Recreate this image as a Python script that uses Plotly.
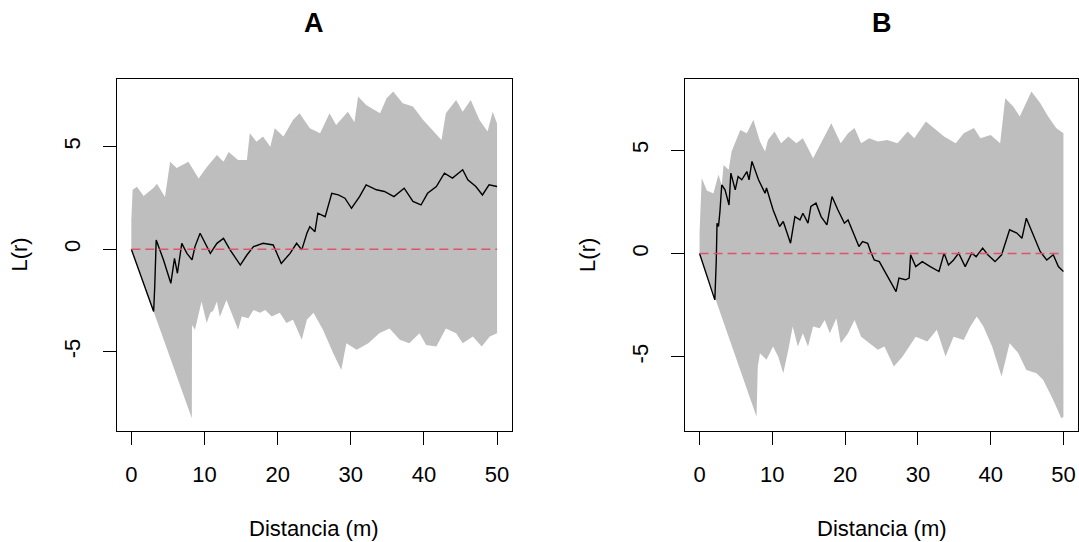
import plotly.graph_objects as go

# ---------------- Panel A ----------------
A_UP_R = [0, 0.18, 0.77, 1.68, 3.05, 3.5, 4.6, 5.3, 6.2, 7.8, 9.2, 10.3, 11.7, 12.6, 13.3, 14.6, 15.8, 16.2,
          17.1, 18.0, 19.0, 19.6, 20.8, 22.1, 23.0, 24.4, 25.8, 27.1, 28.0, 29.6, 30.5, 31.0, 32.1, 34.0, 34.9,
          35.8, 37.1, 38.5, 39.9, 41.2, 42.4, 43.0, 44.4, 45.3, 46.4, 47.6, 48.7, 49.4, 50]
A_UP = [1.43, 2.9, 3.05, 2.6, 3.0, 3.2, 2.55, 4.27, 3.96, 4.27, 3.45, 4.0, 4.6, 4.27, 4.75, 4.35, 4.35, 5.66,
        5.25, 5.5, 5.0, 5.9, 5.5, 6.3, 6.63, 5.9, 5.66, 6.63, 6.06, 6.71, 6.2, 7.45, 7.04, 6.63, 7.37,
        7.69, 7.12, 6.96, 6.31, 5.82, 5.33, 6.63, 7.28, 6.71, 7.28, 6.31, 5.74, 6.71, 6.14]

A_LO_R = [0, 8.27, 8.3, 8.7, 9.6, 10.3, 10.8, 11.2, 11.7, 12.1, 13.0, 13.7, 14.6, 15.1, 16.0, 16.7, 17.6, 18.3,
          19.2, 20.3, 21.2, 22.1, 23.3, 24.0, 24.9, 26.2, 27.6, 28.7, 29.4, 30.8, 32.4, 33.9, 35.3, 36.7, 38.0,
          39.4, 40.3, 41.7, 43.0, 44.4, 45.3, 46.7, 47.9, 49.0, 50]
A_LO = [0, -8.24, -3.69, -3.93, -2.55, -3.6, -3.1, -3.0, -2.55, -3.3, -2.47, -3.1, -3.93, -3.28, -3.36, -2.96,
        -3.1, -2.96, -3.28, -3.1, -3.6, -3.44, -4.42, -3.44, -3.1, -3.93, -5.07, -5.89, -4.59, -4.9, -4.59,
        -4.1, -3.86, -4.42, -4.59, -4.1, -4.67, -4.74, -3.86, -4.1, -4.59, -4.26, -4.74, -4.26, -4.1]

A_OBS_R = [0, 3.05, 3.2, 3.4, 4.4, 5.4, 5.9, 6.3, 6.9, 7.6, 8.3, 8.7, 9.4, 10.1, 10.8, 11.7, 12.6, 13.5, 14.9,
           15.8, 16.7, 18.0, 19.4, 20.5, 21.7, 22.6, 23.3, 24.0, 24.4, 25.1, 25.5, 26.5, 27.4, 28.3, 29.2, 30.1,
           31.2, 32.1, 33.5, 34.6, 35.9, 37.3, 38.5, 39.6, 40.5, 41.7, 42.8, 43.9, 45.3, 46.0, 47.1, 48.0,
           48.9, 50]
A_OBS = [0, -3.04, -1.82, 0.45, -0.52, -1.66, -0.44, -1.17, 0.29, -0.2, -0.52, 0.13, 0.78, 0.29, -0.2, 0.29,
         0.53, -0.03, -0.77, -0.28, 0.13, 0.29, 0.21, -0.69, -0.2, 0.29, -0.03, 0.78, 1.1, 0.86, 1.76, 1.59,
         2.73, 2.65, 2.49, 2.0, 2.57, 3.14, 2.9, 2.82, 2.57, 2.98, 2.33, 2.16, 2.73, 3.06, 3.71, 3.47, 3.88,
         3.39, 3.06, 2.65, 3.14, 3.06]

# ---------------- Panel B ----------------
B_UP_R = [0, 0.3, 1.0, 1.9, 2.6, 3.05, 3.3, 4.0, 4.4, 5.6, 6.5, 7.4, 8.3, 9.0, 9.4, 10.3, 11.2, 12.2, 13.3,
          14.2, 15.6, 16.7, 18.1, 19.4, 20.4, 21.3, 22.2, 23.3, 24.5, 25.8, 27.2, 28.6, 29.5, 31.1, 32.2, 33.6,
          35.2, 36.3, 37.7, 38.6, 40.0, 41.3, 42.0, 43.1, 44.0, 45.6, 46.8, 47.9, 49.0, 50]
B_UP = [0.99, 3.65, 3.05, 2.9, 3.82, 3.3, 4.29, 4.05, 4.94, 5.98, 5.82, 6.47, 5.42, 4.94, 5.5, 5.9, 5.34, 5.66,
        5.34, 5.58, 4.61, 5.34, 6.31, 5.34, 5.82, 6.07, 5.34, 5.58, 5.42, 5.5, 5.34, 5.9, 5.58, 6.39, 6.07,
        5.66, 5.34, 5.82, 6.07, 5.58, 5.74, 5.34, 7.52, 7.11, 6.63, 7.84, 7.28, 6.63, 6.07, 5.82]

B_LO_R = [0, 7.83, 8.0, 8.3, 9.2, 10.1, 10.8, 11.5, 12.2, 12.8, 13.5, 14.2, 14.9, 15.6, 16.5, 17.2, 17.9, 18.8,
          19.4, 20.4, 21.3, 22.2, 23.3, 24.5, 25.4, 26.7, 27.9, 28.8, 29.7, 31.3, 32.6, 33.8, 34.9, 36.3, 37.2,
          38.1, 39.0, 40.2, 41.5, 42.6, 43.8, 44.9, 46.3, 47.2, 48.6, 49.7, 50]
B_LO = [0, -7.89, -5.47, -4.82, -5.14, -4.5, -4.98, -5.79, -4.66, -3.53, -4.5, -3.85, -4.5, -3.53, -3.61,
        -3.21, -3.85, -3.13, -4.34, -3.85, -3.21, -4.02, -4.34, -4.66, -4.5, -5.47, -4.98, -4.5, -4.02, -4.26,
        -3.69, -4.98, -4.02, -4.18, -3.53, -3.05, -3.53, -4.5, -5.95, -4.34, -4.82, -5.63, -5.79, -6.11,
        -7.08, -7.97, -7.89]

B_OBS_R = [0, 2.1, 2.3, 2.4, 2.6, 2.8, 3.05, 3.5, 4.05, 4.3, 4.9, 5.3, 5.8, 6.5, 6.8, 7.2, 8.1, 9.0, 9.2, 10.1,
           11.0, 11.5, 12.5, 13.1, 13.8, 14.2, 14.9, 15.3, 16.0, 16.7, 17.5, 18.2, 19.0, 19.9, 20.4, 21.3,
           21.9, 22.4, 23.1, 23.5, 24.0, 24.7, 25.6, 26.1, 27.0, 27.4, 28.3, 28.8, 29.0, 29.7, 30.6, 31.7,
           32.9, 33.6, 34.2, 34.9, 35.6, 36.5, 37.4, 38.0, 38.9, 39.6, 40.6, 41.5, 41.9, 42.6, 43.6, 44.3,
           44.9, 45.9, 46.8, 47.7, 48.6, 49.3, 50]
B_OBS = [0, -2.24, -0.31, 1.47, 1.31, 2.03, 3.32, 3.08, 2.35, 3.89, 3.08, 3.73, 3.57, 3.97, 3.57, 4.46, 3.57,
         2.92, 3.17, 2.12, 1.31, 1.55, 0.5, 1.79, 1.63, 1.95, 1.47, 2.28, 2.44, 1.79, 1.39, 2.76, 2.12, 1.47,
         1.63, 0.82, 0.34, 0.58, 0.5, 0.1, -0.31, -0.39, -0.95, -1.27, -1.84, -1.19, -1.27, -1.19, -0.06,
         -0.63, -0.39, -0.63, -0.87, 0.02, -0.55, -0.31, 0.02, -0.63, 0.02, -0.15, 0.26, -0.06, -0.39, -0.06,
         0.42, 1.15, 0.99, 0.74, 1.71, 0.82, 0.1, -0.31, -0.06, -0.63, -0.87]

# Theoretical L(r) under CSR (centred): zero
THEO_R = [0, 50]
THEO = [0, 0]

TITLES = ["A", "B"]
X_TITLE = "Distancia (m)"
Y_TITLE = "L(r)"
X_TICKS = [0, 10, 20, 30, 40, 50]
X_TICKTEXT = ["0", "10", "20", "30", "40", "50"]
Y_TICKS = [-5, 0, 5]
Y_TICKTEXT = ["-5", "0", "5"]

FONT = "Arial, 'Liberation Sans', Helvetica, sans-serif"
GREY = "#BEBEBE"
RED = "#DF536B"

W, H = 1079, 542
fig = go.Figure()


def add_panel(xa, ya, up_r, up, lo_r, lo, obs_r, obs):
    fig.add_trace(go.Scatter(x=list(up_r) + list(lo_r)[::-1], y=list(up) + list(lo)[::-1],
                             fill="toself", fillcolor=GREY, mode="lines", line=dict(width=0, color=GREY),
                             hoverinfo="skip", showlegend=False, xaxis=xa, yaxis=ya))
    fig.add_trace(go.Scatter(x=obs_r, y=obs, mode="lines", line=dict(color="black", width=1.4),
                             showlegend=False, xaxis=xa, yaxis=ya))
    fig.add_trace(go.Scatter(x=THEO_R, y=THEO, mode="lines",
                             line=dict(color=RED, width=1.4, dash="9px,5px"),
                             showlegend=False, xaxis=xa, yaxis=ya))


add_panel("x", "y", A_UP_R, A_UP, A_LO_R, A_LO, A_OBS_R, A_OBS)
add_panel("x2", "y2", B_UP_R, B_UP, B_LO_R, B_LO, B_OBS_R, B_OBS)

# panel geometry (pixels)
A_L, A_R = 116.7, 511.7
B_L, B_R = 685.0, 1078.0
TOP, BOT = 78.5, 431.3
ydom = [1 - BOT / H, 1 - TOP / H]

axis_common = dict(showgrid=False, zeroline=False, showline=True, mirror=True, linecolor="black",
                   linewidth=1, ticks="outside", ticklen=13, tickwidth=1, tickcolor="black",
                   tickfont=dict(family=FONT, size=22, color="black"), automargin=False)

fig.update_layout(
    width=W, height=H, margin=dict(l=0, r=0, t=0, b=0),
    paper_bgcolor="white", plot_bgcolor="white",
    xaxis=dict(domain=[A_L / W, A_R / W], range=[-2, 52], tickvals=X_TICKS, ticktext=X_TICKTEXT,
               anchor="y", ticklabelstandoff=10, **axis_common),
    yaxis=dict(domain=ydom, range=[-8.88, 8.33], tickvals=Y_TICKS, ticktext=Y_TICKTEXT, tickangle=-90,
               anchor="x", ticklabelstandoff=14, **axis_common),
    xaxis2=dict(domain=[B_L / W, B_R / W], range=[-2, 52], tickvals=X_TICKS, ticktext=X_TICKTEXT,
                anchor="y2", ticklabelstandoff=10, **axis_common),
    yaxis2=dict(domain=ydom, range=[-8.60, 8.47], tickvals=Y_TICKS, ticktext=Y_TICKTEXT, tickangle=-90,
                anchor="x2", ticklabelstandoff=14, **axis_common),
)

ann = []
for (l, r), t in zip([(A_L, A_R), (B_L, B_R)], TITLES):
    cx = (l + r) / 2 / W
    ann.append(dict(text="<b>%s</b>" % t, x=cx, y=1 - 23 / H, xref="paper", yref="paper",
                    showarrow=False, xanchor="center", yanchor="middle",
                    font=dict(family=FONT, size=27, color="black")))
    ann.append(dict(text=X_TITLE, x=cx, y=1 - 528 / H, xref="paper", yref="paper",
                    showarrow=False, xanchor="center", yanchor="middle",
                    font=dict(family=FONT, size=22, color="black")))
    ann.append(dict(text=Y_TITLE, x=(l - 97) / W, y=1 - (TOP + BOT) / 2 / H, xref="paper", yref="paper",
                    showarrow=False, xanchor="center", yanchor="middle", textangle=-90,
                    font=dict(family=FONT, size=22, color="black")))
fig.update_layout(annotations=ann)

fig.write_html("out.html")
